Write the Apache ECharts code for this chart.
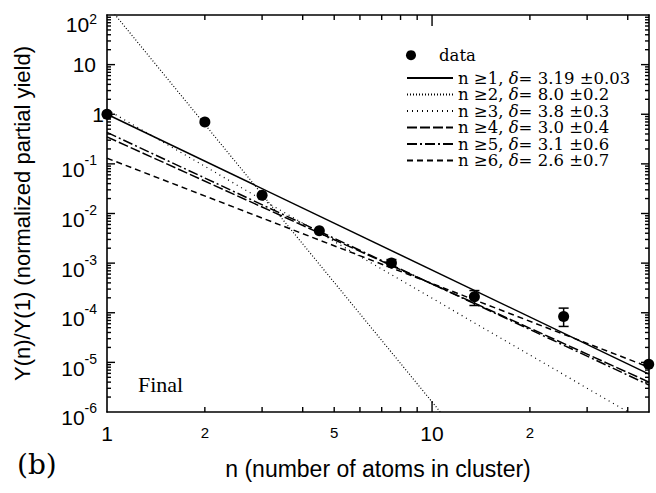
<!DOCTYPE html>
<html><head><meta charset="utf-8">
<script src="https://cdn.jsdelivr.net/npm/echarts@6/dist/echarts.min.js"></script>
<style>html,body{margin:0;padding:0;background:#fff}#c{width:656px;height:493px}</style>
</head><body><div id="c"></div>
<script>
// ---- data ----
const xMin = 1, xMax = 46.5, yMin = 1e-6, yMax = 100;
const dataN = [1, 2, 3, 4.5, 7.5, 13.5, 25.4, 46.4];
const dataY = [1.0, 0.70, 0.0234, 0.0045, 0.00101, 2.1e-4, 8.4e-5, 9.2e-6];
const errN = [7.5, 13.5, 25.4];
const errLow = [8.6e-4, 1.4e-4, 5.3e-5];
const errHigh = [1.18e-3, 2.8e-4, 1.24e-4];
const fitNames = ['n ≥1, δ= 3.19 ±0.03', 'n ≥2, δ= 8.0 ±0.2', 'n ≥3, δ= 3.8 ±0.3',
                  'n ≥4, δ= 3.0 ±0.4', 'n ≥5, δ= 3.1 ±0.6', 'n ≥6, δ= 2.6 ±0.7'];
const fitX = [1, 46.5];
const fitStart = [1.0, 160, 1.24, 0.35, 0.43, 0.13];
const fitEnd = [5.8e-6, 7.3e-12, 5.7e-7, 4.0e-6, 3.5e-6, 8.0e-6];
const xLabelValues = [1, 2, 5, 10, 20];
const xLabelTexts = ['1', '2', '5', '10', '2'];
const xMajorTicks = [10];
const xMinorTicks = [2, 3, 4, 5, 6, 7, 8, 9, 20, 30, 40];
const yDecadeValues = [1.0001e-6, 1e-5, 1e-4, 1e-3, 1e-2, 1e-1, 1, 10, 99.99];
const yDecadeExp = [-6, -5, -4, -3, -2, -1, 0, 1, 2];
const yMinorMult = [2, 3, 4, 5, 6, 7, 8, 9];

// ---- styles ----
const fitDash = ['solid', [1, 2], [1, 4], [10, 3], [10, 3, 2, 3], [6, 4]];
const fitWidth = [1.5, 1.2, 1.2, 1.5, 1.5, 1.5];
const MARK_LEN = [5, 11, 5, 8, 4];      // [error-bar cap half width, x major, x minor, y major, y minor]

const yMinorTicks = [];
yDecadeExp.slice(0, -1).forEach(e => yMinorMult.forEach(m => yMinorTicks.push(Number(m + 'e' + e))));
const yInnerDecades = yDecadeValues.slice(1, -1);

const SANS = 'Liberation Sans';
const LEG = 'DejaVu Serif';

function nearestIdx(arr, v) {
  let idx = 0, best = Infinity;
  arr.forEach((lv, i) => { const d = Math.abs(Math.log(v / lv)); if (d < best) { best = d; idx = i; } });
  return idx;
}
function xLabelFmt(v) {
  const idx = nearestIdx(xLabelValues, v);
  const t = xLabelTexts[idx];
  return (xLabelValues[idx] === 1 || xLabelValues[idx] === 10) ? '{b|' + t + '}' : '{s|' + t + '}';
}
function yLabelFmt(v) {
  const e = yDecadeExp[nearestIdx(yDecadeValues, v)];
  if (e === 0) return '{one|1}';
  if (e === 1) return '{ten|10}';
  if (e === 2) return '{gt| }\n{bt|10}{s|' + e + '}';
  return '{g| }\n{b|10}{s|' + e + '}';
}

const axisLineStyle = { color: '#000', width: 1.6 };

const xAxes = [
  { type: 'log', logBase: 10, min: xMin, max: xMax, position: 'bottom',
    splitLine: { show: false }, axisLine: { show: true, lineStyle: axisLineStyle }, axisTick: { show: false },
    axisLabel: {
      show: true, customValues: xLabelValues, formatter: xLabelFmt, margin: 11, color: '#000',
      rich: {
        b: { fontFamily: SANS, fontSize: 21, lineHeight: 21, color: '#000' },
        s: { fontFamily: SANS, fontSize: 15, lineHeight: 15, padding: [4, 0, 0, 0], color: '#000' }
      }
    },
    name: 'n (number of atoms in cluster)', nameLocation: 'middle', nameGap: 45,
    nameTextStyle: { fontFamily: SANS, fontSize: 23, color: '#000' } },
  { type: 'log', logBase: 10, min: xMin, max: xMax, position: 'top',
    splitLine: { show: false }, axisLine: { show: true, lineStyle: axisLineStyle }, axisTick: { show: false }, axisLabel: { show: false } }
];
const yAxes = [
  { type: 'log', logBase: 10, min: yMin, max: yMax, position: 'left',
    splitLine: { show: false }, axisLine: { show: true, lineStyle: axisLineStyle }, axisTick: { show: false },
    axisLabel: {
      show: true, customValues: yDecadeValues, formatter: yLabelFmt, margin: 3, color: '#000',
      rich: {
        one: { fontFamily: SANS, fontSize: 21, lineHeight: 21, color: '#000' },
        ten: { fontFamily: SANS, fontSize: 21, lineHeight: 21, padding: [0, 8, 0, 0], color: '#000' },
        g: { fontFamily: SANS, fontSize: 6, lineHeight: 6, color: '#000' },
        gt: { fontFamily: SANS, fontSize: 6, lineHeight: 17, color: '#000' },
        b: { fontFamily: SANS, fontSize: 21, lineHeight: 27, verticalAlign: 'bottom', color: '#000' },
        bt: { fontFamily: SANS, fontSize: 21, lineHeight: 23, verticalAlign: 'bottom', color: '#000' },
        s: { fontFamily: SANS, fontSize: 14, lineHeight: 14, verticalAlign: 'top', padding: [0, 7, 0, 0], color: '#000' }
      }
    },
    name: 'Y(n)/Y(1) (normalized partial yield)', nameLocation: 'middle', nameGap: 74,
    nameTextStyle: { fontFamily: SANS, fontSize: 22, color: '#000' } },
  { type: 'log', logBase: 10, min: yMin, max: yMax, position: 'right',
    splitLine: { show: false }, axisLine: { show: true, lineStyle: axisLineStyle }, axisTick: { show: false }, axisLabel: { show: false } }
];

// error bars: rows [n, low, high]
const errRows = errN.map((x, i) => [x, errLow[i], errHigh[i]]);
// frame ticks: rows [tickValue, kind]; the tick value is mapped by the axis scale,
// the frame edges come from the grid rectangle
const tickRows = [];
xMajorTicks.forEach(v => tickRows.push([v, 1]));
xMinorTicks.forEach(v => tickRows.push([v, 2]));
yInnerDecades.forEach(v => tickRows.push([v, 3]));
yMinorTicks.forEach(v => tickRows.push([v, 4]));

const series = [];
series.push({
  type: 'scatter', name: 'data', xAxisIndex: 0, yAxisIndex: 0, z: 5, clip: false,
  symbol: 'circle', symbolSize: 11, itemStyle: { color: '#000', opacity: 1 },
  data: dataN.map((x, i) => [x, dataY[i]])
});
fitNames.forEach((nm, i) => {
  series.push({
    type: 'line', name: nm, xAxisIndex: 0, yAxisIndex: 0, z: 4, symbol: 'none', showSymbol: false,
    lineStyle: { color: '#000', width: fitWidth[i], type: fitDash[i] },
    itemStyle: { color: 'rgba(0,0,0,0)', borderWidth: 0 },
    data: fitX.map((x, k) => [x, k === 0 ? fitStart[i] : fitEnd[i]])
  });
});
series.push({
  type: 'custom', name: 'err', xAxisIndex: 0, yAxisIndex: 0, z: 3, silent: true,
  data: errRows,
  encode: { x: 0, y: [1, 2] },
  renderItem: function (params, api) {
    const L = MARK_LEN[0];
    const x = api.value(0);
    const p1 = api.coord([x, api.value(1)]);
    const p2 = api.coord([x, api.value(2)]);
    const st = { stroke: '#000', lineWidth: 1.5 };
    return { type: 'group', children: [
      { type: 'line', shape: { x1: p1[0], y1: p1[1], x2: p2[0], y2: p2[1] }, style: st },
      { type: 'line', shape: { x1: p1[0] - L, y1: p1[1], x2: p1[0] + L, y2: p1[1] }, style: st },
      { type: 'line', shape: { x1: p2[0] - L, y1: p2[1], x2: p2[0] + L, y2: p2[1] }, style: st }
    ] };
  }
});
series.push({
  type: 'custom', name: 'frameTicks', xAxisIndex: 0, yAxisIndex: 0, z: 3, silent: true,
  data: tickRows.map(r => [r[1] <= 2 ? r[0] : 3, r[1] <= 2 ? 1e-2 : r[0], r[1]]),
  encode: { x: 0, y: 1 },
  renderItem: function (params, api) {
    const kind = api.value(2);
    const L = MARK_LEN[kind];
    const cs = params.coordSys;
    const p = api.coord([api.value(0), api.value(1)]);
    const st = { stroke: '#000', lineWidth: 1.4 };
    const top = cs.y, bottom = cs.y + cs.height, left = cs.x, right = cs.x + cs.width;
    let children;
    if (kind === 1 || kind === 2) {
      children = [
        { type: 'line', shape: { x1: p[0], y1: bottom, x2: p[0], y2: bottom - L }, style: st },
        { type: 'line', shape: { x1: p[0], y1: top, x2: p[0], y2: top + L }, style: st }
      ];
    } else {
      children = [
        { type: 'line', shape: { x1: left, y1: p[1], x2: left + L, y2: p[1] }, style: st },
        { type: 'line', shape: { x1: right, y1: p[1], x2: right - L, y2: p[1] }, style: st }
      ];
    }
    return { type: 'group', children: children };
  }
});

const chart = echarts.init(document.getElementById('c'), null, { renderer: 'svg' });
chart.setOption({
  animation: false,
  backgroundColor: '#fff',
  grid: { left: 107, right: 7, top: 15, bottom: 81, containLabel: false },
  xAxis: xAxes,
  yAxis: yAxes,
  legend: [
    { data: ['data'], orient: 'vertical', left: 401, top: 41.7, itemWidth: 46, itemHeight: 10, selectedMode: false,
      itemStyle: { color: '#000', opacity: 1 },
      textStyle: { fontFamily: LEG, fontSize: 16.5, color: '#000' } },
    { data: fitNames, orient: 'vertical', left: 401, top: 64.5, itemWidth: 46, itemHeight: 14, itemGap: -0.5, selectedMode: false,
      itemStyle: { color: 'rgba(0,0,0,0)', borderColor: 'rgba(0,0,0,0)', borderWidth: 0 },
      formatter: nm => nm.replace('δ', '{i|δ}'),
      textStyle: { fontFamily: LEG, fontSize: 16.5, color: '#000',
        rich: { i: { fontFamily: LEG, fontStyle: 'italic', fontSize: 16.5, color: '#000' } } } }
  ],
  graphic: [
    { type: 'text', left: 138, top: 373, style: { text: 'Final', font: '22px "Liberation Serif"', fill: '#000' } },
    { type: 'text', left: 17, top: 450, style: { text: '(b)', font: '28px "DejaVu Serif"', fill: '#000' } }
  ],
  series: series
});
</script></body></html>
